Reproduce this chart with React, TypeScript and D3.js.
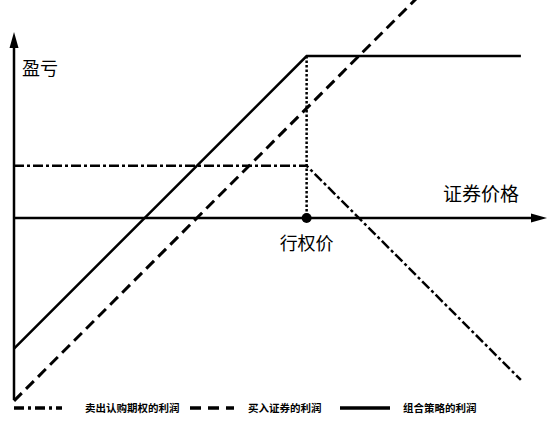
import { useMemo } from "react";
import * as d3 from "d3";

// covered call payoff: prices and profits in arbitrary units
const stockPrices = [0, 40];
const stockProfit = [-17.5, 22.5];
const callPrices = [0, 28, 48.5];
const callProfit = [5, 5, -15.5];
const comboPrices = [0, 28, 48.5];
const comboProfit = [-12.5, 15.5, 15.5];
const strikePrice = 28;

const axisLabels = { y: "盈亏", x: "证券价格", strike: "行权价" };
const legendNames = ["卖出认购期权的利润", "买入证券的利润", "组合策略的利润"];

const W = 554;
const H = 437;
const CJK = "'Noto Sans CJK SC', sans-serif";

export default function App() {
  const x = useMemo(() => d3.scaleLinear().domain([0, 51]).range([14, 547]), []);
  const y = useMemo(() => d3.scaleLinear().domain([0, 10]).range([218, 113.5]), []);

  const line = d3
    .line<[number, number]>()
    .x(d => x(d[0]))
    .y(d => y(d[1]));

  const zip = (a: number[], b: number[]) => a.map((v, i) => [v, b[i]] as [number, number]);

  const x0 = x(0);
  const yAxis = y(0);
  const kx = x(strikePrice);

  const legendStyles = [
    { dash: "10 4 3 4", width: 3.5, x1: 14, x2: 62, tx: 85 },
    { dash: "11 7", width: 3.5, x1: 190, x2: 234, tx: 248 },
    { dash: "none", width: 3.5, x1: 340, x2: 390, tx: 403 },
  ];

  return (
    <svg
      width={W}
      height={H}
      style={{ position: "absolute", left: 0, top: 0, background: "#fff" }}
    >
      {/* axes */}
      <line x1={x0} y1={400} x2={x0} y2={45} stroke="#000" strokeWidth={2.5} />
      <path d={`M${x0},32 L${x0 - 4.5},48 L${x0 + 4.5},48 Z`} fill="#000" />
      <line x1={x0} y1={yAxis} x2={x(50)} y2={yAxis} stroke="#000" strokeWidth={2.5} />
      <path d={`M${x(51)},${yAxis} L${x(51) - 16},${yAxis - 4.5} L${x(51) - 16},${yAxis + 4.5} Z`} fill="#000" />

      {/* strike marker */}
      <line
        x1={kx}
        y1={y(comboProfit[1])}
        x2={kx}
        y2={yAxis}
        stroke="#000"
        strokeWidth={2.5}
        strokeDasharray="2.5 2"
      />
      <circle cx={kx} cy={yAxis} r={5} fill="#000" />

      {/* payoff lines */}
      <path
        d={line(zip(stockPrices, stockProfit))!}
        fill="none"
        stroke="#000"
        strokeWidth={3}
        strokeDasharray="11 6"
      />
      <path
        d={line(zip(callPrices, callProfit))!}
        fill="none"
        stroke="#000"
        strokeWidth={2.5}
        strokeDasharray="10 3 3 3"
      />
      <path
        d={line(zip(comboPrices, comboProfit))!}
        fill="none"
        stroke="#000"
        strokeWidth={2.5}
      />

      {/* labels */}
      <text x={22} y={75} fontFamily={CJK} fontSize={18} fill="#000">
        {axisLabels.y}
      </text>
      <text x={443} y={201} fontFamily={CJK} fontSize={19} fill="#000">
        {axisLabels.x}
      </text>
      <text x={kx} y={250} textAnchor="middle" fontFamily={CJK} fontSize={18} fill="#000">
        {axisLabels.strike}
      </text>

      {/* legend */}
      {legendStyles.map((s, i) => (
        <g key={i}>
          <line
            x1={s.x1}
            x2={s.x2}
            y1={408}
            y2={408}
            stroke="#000"
            strokeWidth={s.width}
            strokeDasharray={s.dash}
          />
          <text x={s.tx} y={412} fontFamily={CJK} fontSize={10.5} fontWeight="bold" fill="#000">
            {legendNames[i]}
          </text>
        </g>
      ))}
    </svg>
  );
}
